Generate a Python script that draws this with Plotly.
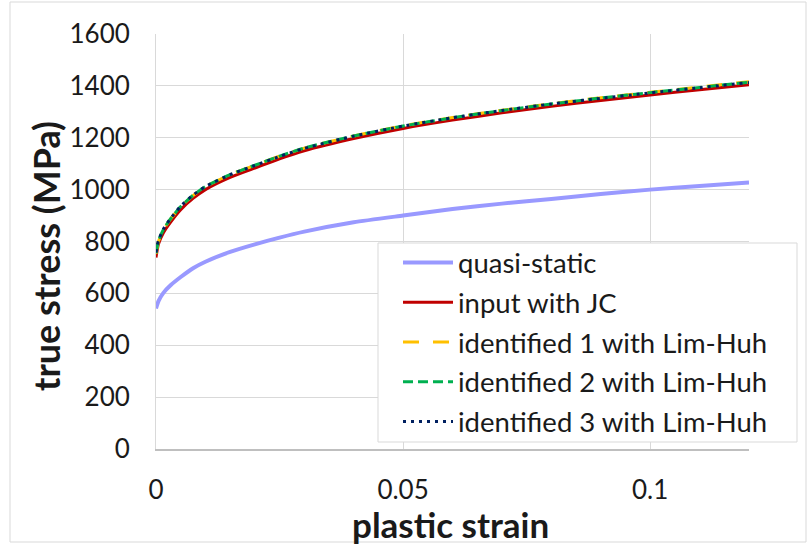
import plotly.graph_objects as go

# ---- data ----
strain = [0, 0.0005, 0.0015, 0.003, 0.005, 0.0075, 0.01, 0.015, 0.02, 0.025,
          0.03, 0.04, 0.05, 0.06, 0.07, 0.08, 0.09, 0.1, 0.11, 0.12]
quasi_static = [542, 570, 602, 632, 663, 697, 722, 760, 789, 815,
                838, 874, 900, 925, 946, 964, 983, 1000, 1014, 1027]
input_jc = [738, 790, 834, 876, 923, 966, 1000, 1047, 1083, 1119,
            1150, 1197, 1236, 1268, 1296, 1321, 1344, 1365, 1385, 1404]
ident1 = [752, 800, 845, 888, 934, 977, 1011, 1058, 1094, 1129,
          1160, 1207, 1246, 1278, 1306, 1331, 1354, 1375, 1396, 1416]
ident2 = [755, 802, 846, 889, 935, 978, 1012, 1058, 1094, 1129,
          1160, 1207, 1245, 1277, 1305, 1330, 1353, 1374, 1394, 1414]
ident3 = [758, 804, 848, 890, 936, 979, 1012, 1058, 1093, 1128,
          1159, 1206, 1245, 1277, 1305, 1330, 1352, 1373, 1393, 1413]

names = ["quasi-static", "input with JC", "identified 1 with Lim-Huh",
         "identified 2 with Lim-Huh", "identified 3 with Lim-Huh"]
series = [quasi_static, input_jc, ident1, ident2, ident3]
colors = ["#9999FF", "#C00000", "#FFC000", "#00B050", "#002060"]
widths = [4, 3, 3, 3, 3]
dashes = ["solid", "solid", "16px,14px", "10px,5px", "3px,5px"]

x_ticks = [0, 0.05, 0.1]
x_ticklabels = ["0", "0.05", "0.1"]
y_ticks = [0, 200, 400, 600, 800, 1000, 1200, 1400, 1600]

FONT = "Lato"
W, H = 809, 548
L, R, T, B = 156, 60, 34, 99
PW, PH = W - L - R, H - T - B


def px_x(p):
    return (p - L) / PW


def px_y(p):
    return (H - B - p) / PH


fig = go.Figure()
for i, (nm, ys, c, w, d) in enumerate(zip(names, series, colors, widths, dashes)):
    fig.add_trace(go.Scatter(
        x=strain, y=ys, mode="lines", name=nm, legendgroup=f"g{i}",
        line=dict(color=c, width=w, dash=d, shape="spline", smoothing=0.6),
    ))

fig.update_layout(
    width=W, height=H, autosize=False,
    margin=dict(l=L, r=R, t=T, b=B, pad=0),
    paper_bgcolor="white", plot_bgcolor="white",
    font=dict(family=FONT, size=26, color="#1a1a1a"),
    showlegend=True,
    legend=dict(
        x=px_x(398), y=px_y(238), xanchor="left", yanchor="top",
        bgcolor="rgba(0,0,0,0)", borderwidth=0,
        font=dict(family=FONT, size=27.5, color="#1a1a1a"),
        itemwidth=50, tracegroupgap=1, traceorder="grouped",
    ),
    xaxis=dict(
        range=[0, 0.12], tickvals=x_ticks, ticktext=x_ticklabels,
        showgrid=True, gridcolor="#D9D9D9", gridwidth=1,
        showline=True, linecolor="#BFBFBF", linewidth=1.5,
        zeroline=False, ticks="outside", ticklen=17,
        tickcolor="rgba(0,0,0,0)",
        tickfont=dict(family=FONT, size=26, color="#1a1a1a"),
    ),
    yaxis=dict(
        range=[0, 1600], tickvals=y_ticks,
        showgrid=True, gridcolor="#D9D9D9", gridwidth=1,
        showline=True, linecolor="#D9D9D9", linewidth=1,
        zeroline=False, ticks="outside", ticklen=20,
        tickcolor="rgba(0,0,0,0)",
        tickfont=dict(family=FONT, size=26, color="#1a1a1a"),
    ),
    shapes=[
        dict(type="rect", xref="paper", yref="paper",
             x0=px_x(10), x1=px_x(806), y0=px_y(542), y1=px_y(2),
             line=dict(color="#D9D9D9", width=1), fillcolor="rgba(0,0,0,0)",
             layer="below"),
        dict(type="rect", xref="paper", yref="paper",
             x0=px_x(378), x1=px_x(797), y0=px_y(442), y1=px_y(243),
             line=dict(color="#D9D9D9", width=1), fillcolor="white",
             layer="above"),
    ],
    annotations=[
        dict(text="true stress (MPa)", xref="paper", yref="paper",
             x=px_x(46), y=px_y(256), textangle=-90, showarrow=False,
             xanchor="center", yanchor="middle",
             font=dict(family=FONT, size=36, color="#1a1a1a", weight="bold")),
        dict(text="plastic strain", xref="paper", yref="paper",
             x=px_x(450), y=px_y(524), showarrow=False,
             xanchor="center", yanchor="middle",
             font=dict(family=FONT, size=35, color="#1a1a1a", weight="bold")),
    ],
)

fig.write_html("out.html")
